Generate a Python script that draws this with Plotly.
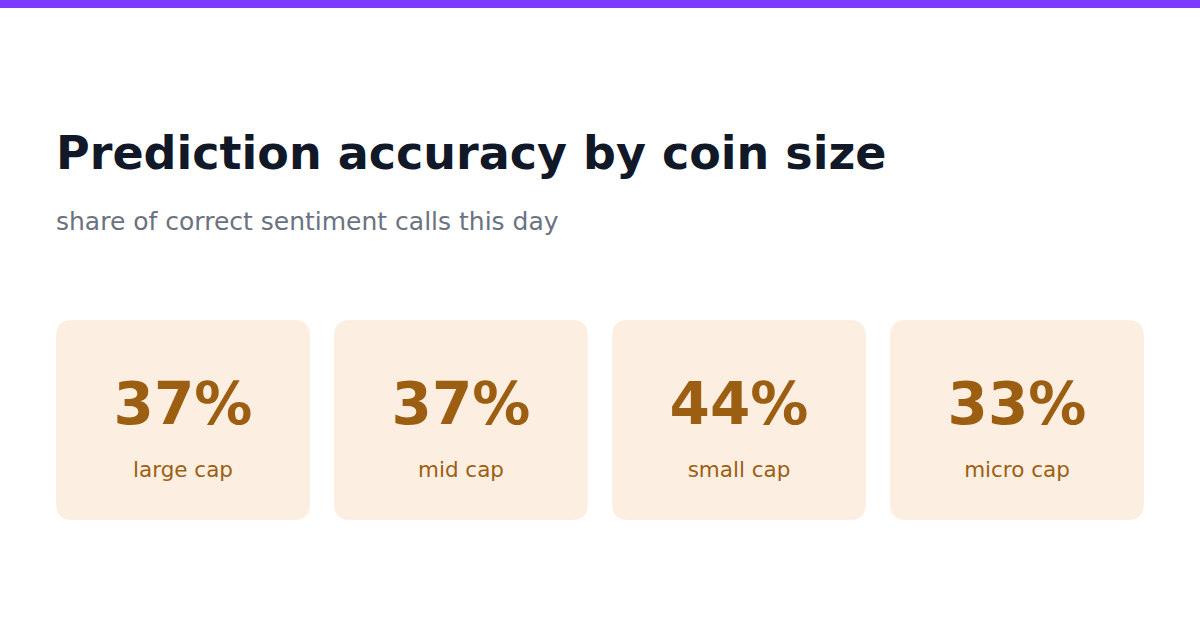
import plotly.graph_objects as go

# datos de las tarjetas
segmentos = ['large cap', 'mid cap', 'small cap', 'micro cap']
precision = [37, 37, 44, 33]

titulo = 'Prediction accuracy by coin size'
subtitulo = 'share of correct sentiment calls this day'

W, H = 1200, 630
x0, ancho, hueco = 56, 254, 24
y_top, y_bot = 320, 520
radio = 16

fondo_tarjeta = '#fdeee2'
color_texto = '#9c5f12'


def rect_redondeado(xa, ya, xb, yb, r):
    return (f'M {xa + r} {ya} L {xb - r} {ya} Q {xb} {ya} {xb} {ya + r} '
            f'L {xb} {yb - r} Q {xb} {yb} {xb - r} {yb} '
            f'L {xa + r} {yb} Q {xa} {yb} {xa} {yb - r} '
            f'L {xa} {ya + r} Q {xa} {ya} {xa + r} {ya} Z')


centros = [x0 + i * (ancho + hueco) + ancho / 2 for i in range(len(segmentos))]

fig = go.Figure()

# barra superior
fig.add_shape(type='rect', x0=0, x1=W, y0=0, y1=8,
              fillcolor='#7c3aff', line_width=0, layer='below')

for c in centros:
    fig.add_shape(type='path',
                  path=rect_redondeado(c - ancho / 2, y_top, c + ancho / 2, y_bot, radio),
                  fillcolor=fondo_tarjeta, line_width=0, layer='below')

fig.add_trace(go.Scatter(
    x=centros, y=[409] * len(centros),
    mode='text',
    text=[f'{v}%' for v in precision],
    textfont=dict(family='DejaVu Sans', size=58, color=color_texto, weight='bold'),
    hoverinfo='skip'
))

fig.add_trace(go.Scatter(
    x=centros, y=[472] * len(centros),
    mode='text',
    text=segmentos,
    textfont=dict(family='DejaVu Sans', size=21.5, color=color_texto),
    hoverinfo='skip'
))

fig.add_annotation(x=56, y=172, text=f'<b>{titulo}</b>', showarrow=False,
                   xanchor='left', yanchor='bottom', yshift=-10, xshift=-2,
                   font=dict(family='DejaVu Sans', size=46, color='#111827'))
fig.add_annotation(x=56, y=221, text=subtitulo, showarrow=False,
                   xanchor='left', yanchor='middle', xshift=-2,
                   font=dict(family='DejaVu Sans', size=25, color='#6b7280'))

fig.update_layout(
    width=W, height=H,
    margin=dict(l=0, r=0, t=0, b=0),
    paper_bgcolor='white', plot_bgcolor='white',
    showlegend=False,
    xaxis=dict(range=[0, W], visible=False, fixedrange=True),
    yaxis=dict(range=[H, 0], visible=False, fixedrange=True),
)

# quitar el margen del body para que la figura empiece en 0,0
fig.write_html('out.html', config={'displayModeBar': False},
               post_script="document.body.style.margin='0';document.body.style.overflow='hidden';")
